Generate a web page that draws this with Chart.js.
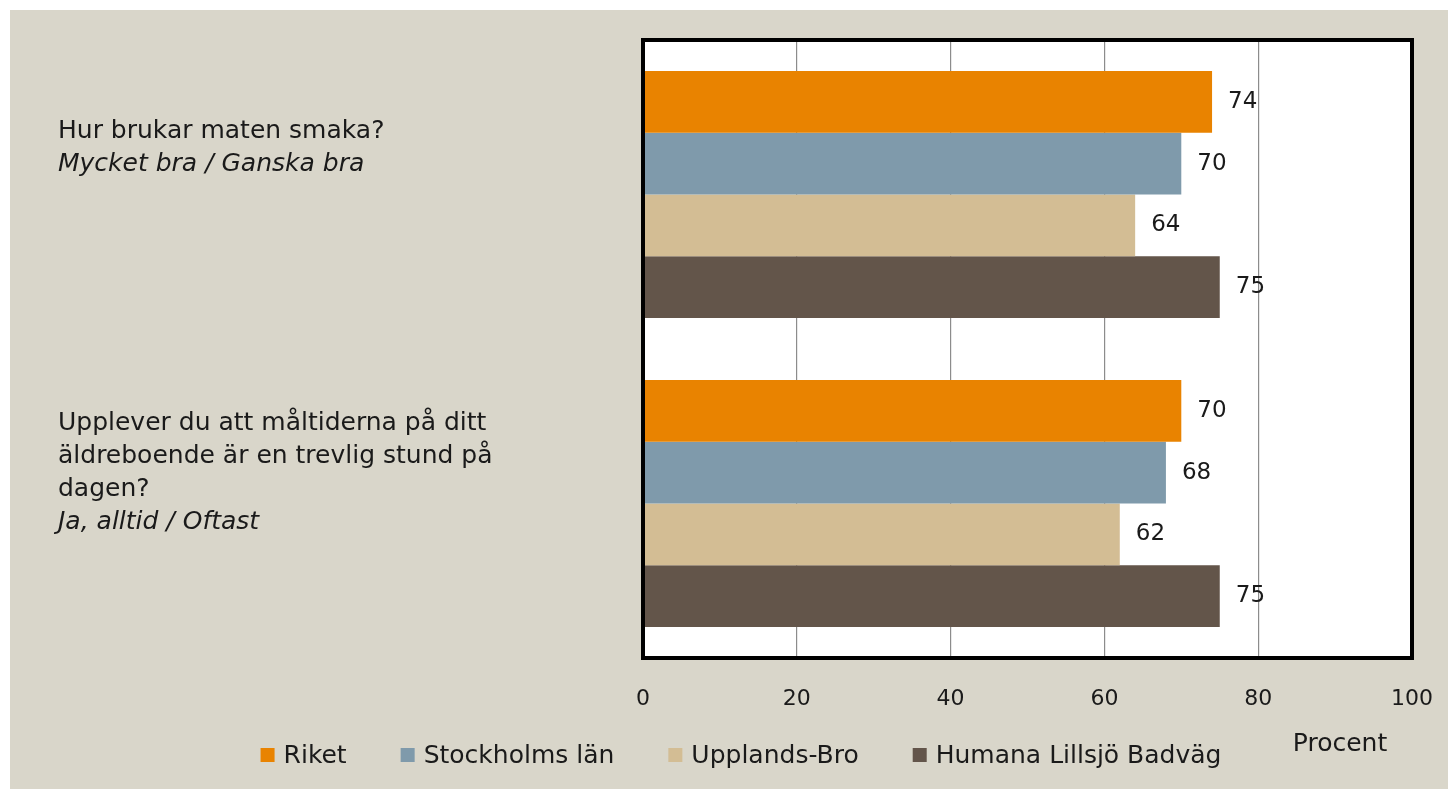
<!DOCTYPE html>
<html>
<head>
<meta charset="utf-8">
<script src="https://cdn.jsdelivr.net/npm/chart.js@4.4.1/dist/chart.umd.min.js"></script>
<style>
  html, body { margin: 0; padding: 0; background: #fff; }
  #panel { position: absolute; left: 10px; top: 10px; width: 1438px; height: 779px; background: #d9d6ca; }
  canvas { display: block; }
</style>
</head>
<body>
<div id="panel"><canvas id="chart" width="1438" height="779"></canvas></div>
<script>
// frågor (sista raden kursiv)
const questions = [
  ['Hur brukar maten smaka?', 'Mycket bra / Ganska bra'],
  ['Upplever du att måltiderna på ditt', 'äldreboende är en trevlig stund på', 'dagen?', 'Ja, alltid / Oftast'],
];

const series = ['Riket', 'Stockholms län', 'Upplands-Bro', 'Humana Lillsjö Badväg'];
const colors = ['#e98300', '#7f9aab', '#d3bd94', '#63554a'];

// procent per fråga
const riket = [74, 70];
const stockholm = [70, 68];
const upplandsBro = [64, 62];
const humana = [75, 75];

const xTicks = [0, 20, 40, 60, 80, 100];

const FONT = '"DejaVu Sans"';
const labelShift = [-63, -80];

const values = [riket, stockholm, upplandsBro, humana];

// vit plotyta
const plotBg = {
  id: 'plotBg',
  beforeDraw(chart) {
    const a = chart.chartArea;
    chart.ctx.save();
    chart.ctx.fillStyle = '#fff';
    chart.ctx.fillRect(a.left, a.top, a.right - a.left, a.bottom - a.top);
    chart.ctx.restore();
  }
};

// vänstra etiketter
const questionLabels = {
  id: 'questionLabels',
  afterDraw(chart) {
    const ctx = chart.ctx;
    const y = chart.scales.y;
    ctx.save();
    ctx.fillStyle = '#1a1a1a';
    ctx.textAlign = 'left';
    ctx.textBaseline = 'middle';
    questions.forEach((lines, i) => {
      const top = y.getPixelForTick(i) + labelShift[i];
      lines.forEach((line, j) => {
        const italic = j === lines.length - 1;
        ctx.font = (italic ? 'italic ' : '') + '25px ' + FONT;
        ctx.fillText(line, 48, top + j * 33);
      });
    });
    ctx.restore();
  }
};

// värden bredvid staplarna
const valueLabels = {
  id: 'valueLabels',
  afterDatasetsDraw(chart) {
    const ctx = chart.ctx;
    ctx.save();
    ctx.fillStyle = '#1a1a1a';
    ctx.font = '23px ' + FONT;
    ctx.textAlign = 'left';
    ctx.textBaseline = 'middle';
    chart.data.datasets.forEach((ds, i) => {
      chart.getDatasetMeta(i).data.forEach((bar, j) => {
        ctx.fillText(ds.data[j], bar.x + 16, bar.y);
      });
    });
    ctx.restore();
  }
};

// svart ram, legend och "Procent"
const frame = {
  id: 'frame',
  afterDraw(chart) {
    const ctx = chart.ctx;
    const a = chart.chartArea;
    ctx.save();
    ctx.strokeStyle = '#000';
    ctx.lineWidth = 4;
    ctx.strokeRect(a.left, a.top, a.right - a.left, a.bottom - a.top);

    ctx.font = '25px ' + FONT;
    ctx.textBaseline = 'middle';
    ctx.textAlign = 'left';
    const pad = 54, box = 14, gap = 9;
    const widths = series.map(s => box + gap + ctx.measureText(s).width);
    const total = widths.reduce((s, w) => s + w, 0) + pad * (series.length - 1);
    let x = 731 - total / 2;
    const ly = 745;
    series.forEach((s, i) => {
      ctx.fillStyle = colors[i];
      ctx.fillRect(x, ly - box / 2, box, box);
      ctx.fillStyle = '#1a1a1a';
      ctx.fillText(s, x + box + gap, ly + 1);
      x += widths[i] + pad;
    });

    ctx.textAlign = 'center';
    ctx.fillText('Procent', 1330, 734);
    ctx.restore();
  }
};

new Chart(document.getElementById('chart'), {
  type: 'bar',
  data: {
    labels: questions.map(q => q[0]),
    datasets: series.map((s, i) => ({
      label: s,
      data: values[i],
      backgroundColor: colors[i],
      barPercentage: 1,
      categoryPercentage: 0.8,
    })),
  },
  options: {
    indexAxis: 'y',
    responsive: false,
    animation: false,
    layout: { padding: { left: 633, top: 30, right: 36, bottom: 71 } },
    plugins: {
      legend: { display: false },
      tooltip: { enabled: false },
    },
    scales: {
      x: {
        min: 0,
        max: 100,
        afterBuildTicks(scale) { scale.ticks = xTicks.map(v => ({ value: v })); },
        afterFit(scale) {
          scale.height = 60;
          scale.paddingLeft = 0;
          scale.paddingRight = 0;
        },
        grid: { color: '#8c8c8c', lineWidth: 1.2, drawTicks: false },
        border: { display: false },
        ticks: { padding: 28, color: '#1a1a1a', font: { family: FONT, size: 22 } },
      },
      y: {
        grid: { display: false, drawTicks: false },
        border: { display: false },
        ticks: { display: false, padding: 0 },
      },
    },
  },
  plugins: [plotBg, questionLabels, valueLabels, frame],
});
</script>
</body>
</html>
